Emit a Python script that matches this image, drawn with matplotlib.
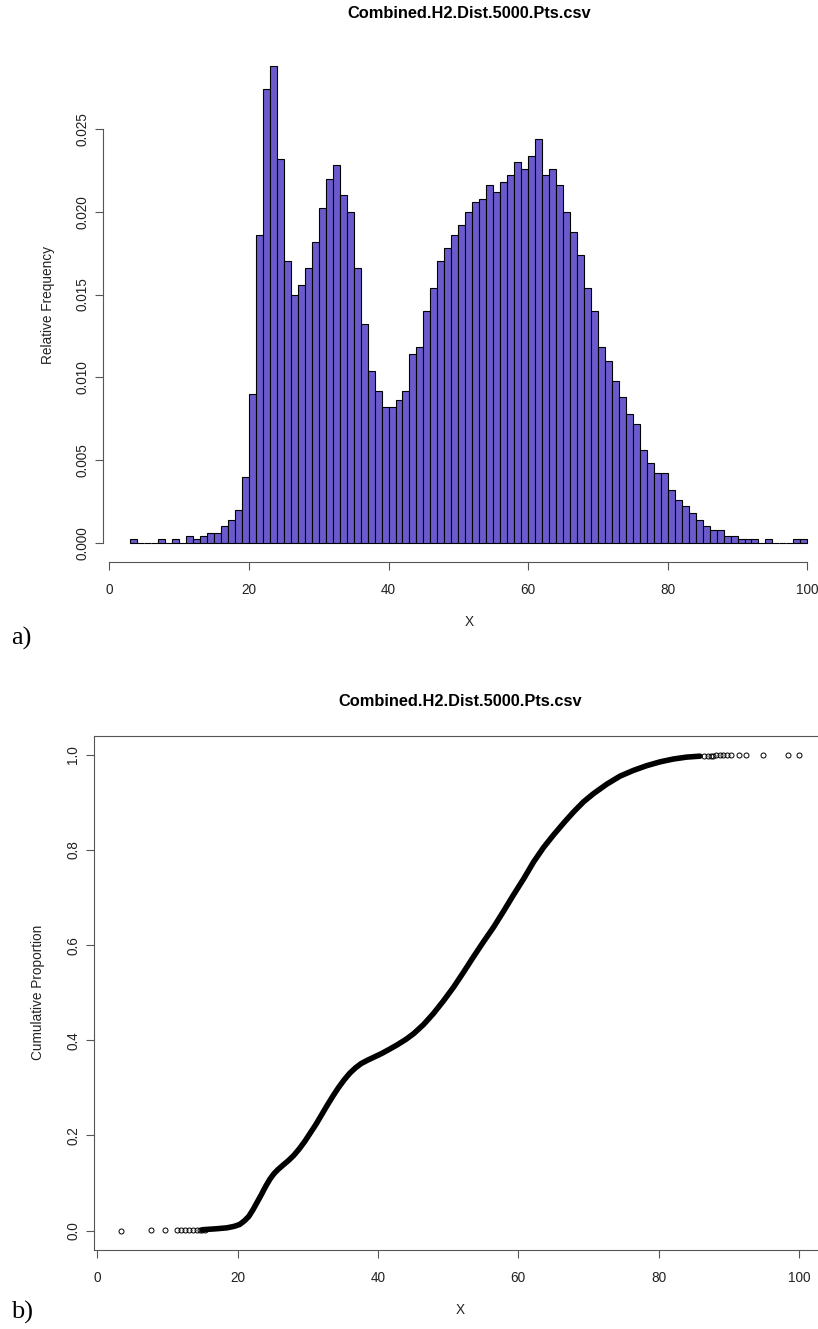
import numpy as np
import matplotlib
matplotlib.use("Agg")
import matplotlib.pyplot as plt

plt.rcParams['font.family'] = ['Liberation Sans', 'DejaVu Sans']

# histogram: relative frequency for 1-unit bins starting at x = 3 (3-4, 4-5, ..., 99-100)
bin_start = 3
rel_freq = [
    0.0002, 0, 0, 0, 0.0002, 0, 0.0002, 0, 0.0004, 0.0002,            # 3..12
    0.0004, 0.0006, 0.0006, 0.0010, 0.0014, 0.0020, 0.0040, 0.0090,   # 13..20
    0.0186, 0.0274, 0.0288, 0.0232, 0.0170, 0.0150, 0.0156, 0.0166,   # 21..28
    0.0182, 0.0202, 0.0220, 0.0228, 0.0210, 0.0200, 0.0166, 0.0132,   # 29..36
    0.0104, 0.0092, 0.0082, 0.0082, 0.0086, 0.0092, 0.0114, 0.0118,   # 37..44
    0.0140, 0.0154, 0.0170, 0.0178, 0.0186, 0.0192, 0.0200, 0.0206,   # 45..52
    0.0208, 0.0216, 0.0212, 0.0218, 0.0222, 0.0230, 0.0226, 0.0234,   # 53..60
    0.0244, 0.0222, 0.0226, 0.0216, 0.0200, 0.0188, 0.0174, 0.0154,   # 61..68
    0.0140, 0.0118, 0.0110, 0.0098, 0.0088, 0.0078, 0.0072, 0.0056,   # 69..76
    0.0048, 0.0042, 0.0042, 0.0032, 0.0026, 0.0022, 0.0018, 0.0014,   # 77..84
    0.0010, 0.0008, 0.0008, 0.0004, 0.0004, 0.0002, 0.0002, 0.0002,   # 85..92
    0, 0.0002, 0, 0, 0, 0.0002, 0.0002,                               # 93..99
]
hist_xticks = [0, 20, 40, 60, 80, 100]
hist_yticks = [0.000, 0.005, 0.010, 0.015, 0.020, 0.025]

# ecdf: the dense middle part
ecdf_x = [15.0, 17.0, 18.5, 19.5, 20.3, 21.0, 21.6, 22.2, 22.8, 23.4, 24.0, 24.6,
          25.2, 25.8, 26.5, 27.3, 28.0, 28.8, 29.6, 30.4, 31.2, 32.0, 32.8, 33.6,
          34.4, 35.2, 36.0, 36.8, 37.6, 38.5, 39.5, 40.5, 41.5, 42.7, 44.0, 45.1,
          46.5, 47.9, 49.3, 50.8, 52.2, 53.6, 55.0, 56.5, 57.9, 59.3, 60.8, 62.2,
          63.6, 65.0, 66.5, 67.9, 69.3, 70.7, 72.6, 74.5, 76.4, 78.3, 80.2, 82.1,
          84.0, 85.9]
ecdf_y = [0.002, 0.004, 0.006, 0.009, 0.013, 0.021, 0.030, 0.044, 0.060, 0.076, 0.093, 0.108,
          0.120, 0.129, 0.138, 0.148, 0.158, 0.172, 0.188, 0.206, 0.224, 0.244, 0.264, 0.283,
          0.301, 0.317, 0.331, 0.342, 0.351, 0.358, 0.365, 0.372, 0.380, 0.390, 0.402, 0.414,
          0.433, 0.456, 0.482, 0.512, 0.543, 0.575, 0.606, 0.638, 0.671, 0.705, 0.740, 0.775,
          0.805, 0.831, 0.857, 0.880, 0.901, 0.918, 0.938, 0.955, 0.967, 0.977, 0.985, 0.991,
          0.995, 0.997]
# sparse points at both tails
tail_lo_x = [3.4, 7.6, 9.7, 11.3, 11.9, 12.5, 13.1, 13.7, 14.2, 14.6, 15.0, 15.4]
tail_lo_y = [0.0002, 0.0004, 0.0006, 0.0008, 0.0010, 0.0012, 0.0014, 0.0016, 0.0018, 0.0020, 0.0022, 0.0024]
tail_hi_x = [86.5, 87.0, 87.4, 87.8, 88.2, 88.7, 89.2, 89.7, 90.3, 91.4, 92.4, 94.9, 98.4, 100.0]
tail_hi_y = [0.9976, 0.9978, 0.9980, 0.9982, 0.9984, 0.9986, 0.9988, 0.9990,
             0.9990, 0.9992, 0.9994, 0.9996, 0.9998, 1.0000]
ecdf_xticks = [0, 20, 40, 60, 80, 100]
ecdf_yticks = [0.0, 0.2, 0.4, 0.6, 0.8, 1.0]

title = "Combined.H2.Dist.5000.Pts.csv"

W, H = 818, 1329
fig = plt.figure(figsize=(W / 100, H / 100), dpi=100)
TXT = '#222222'
AXC = '#555555'


def px_axes(left, top, right, bottom):
    # axes from pixel edges (the right side runs past the picture, like the original crop)
    return fig.add_axes([left / W, 1 - bottom / H, (right - left) / W, (bottom - top) / H])


def r_style(ax, xpad=9, ypad=4):
    ax.tick_params(axis='both', direction='out', length=6, width=0.8, color=AXC,
                   labelsize=9.8, labelcolor=TXT)
    ax.tick_params(axis='x', pad=xpad)
    ax.tick_params(axis='y', pad=ypad)
    for lab in ax.get_yticklabels():
        lab.set_rotation(90)
        lab.set_va('center')


# ---- a) histogram
ax1 = px_axes(103.2, 47.1, 834.4, 561.8)
lefts = np.arange(len(rel_freq)) + bin_start
ax1.bar(lefts, rel_freq, width=1, align='edge', color='#6A5ACD',
        edgecolor='black', linewidth=0.8)
ax1.set_xlim(-0.88, 103.88)
ax1.set_ylim(-0.00115, 0.02995)
ax1.set_xticks(hist_xticks)
ax1.set_yticks(hist_yticks)
ax1.set_yticklabels([f"{v:.3f}" for v in hist_yticks])
for s in ['top', 'right']:
    ax1.spines[s].set_visible(False)
ax1.spines['left'].set_bounds(0, 0.025)
ax1.spines['bottom'].set_bounds(0, 100)
for s in ['left', 'bottom']:
    ax1.spines[s].set_color(AXC)
    ax1.spines[s].set_linewidth(0.8)
r_style(ax1)

fig.text(468.8 / W, 1 - 13.5 / H, title, ha='center', va='center',
         fontsize=11.8, fontweight='bold', color='black')
fig.text(468.8 / W, 1 - 622 / H, "X", ha='center', va='center', fontsize=9.8, color=TXT)
fig.text(48.3 / W, 1 - 304.5 / H, "Relative Frequency", rotation=90,
         ha='center', va='center', fontsize=9.8, color=TXT)
fig.text(11 / W, 1 - 638 / H, "a)", ha='left', va='center', fontsize=19,
         family=['Liberation Serif', 'DejaVu Serif'], color='black')

# ---- b) cumulative proportion
ax2 = px_axes(94.0, 735.7, 826.0, 1249.7)
ax2.plot(ecdf_x, ecdf_y, color='black', lw=4.0, solid_capstyle='round',
         solid_joinstyle='round')
ax2.plot(tail_lo_x, tail_lo_y, 'o', mfc='none', mec='black', ms=3.6, mew=0.7)
ax2.plot(tail_hi_x, tail_hi_y, 'o', mfc='none', mec='black', ms=3.6, mew=0.7)
ax2.set_xlim(-0.46, 103.86)
ax2.set_ylim(-0.04, 1.04)
ax2.set_xticks(ecdf_xticks)
ax2.set_yticks(ecdf_yticks)
ax2.set_yticklabels([f"{v:.1f}" for v in ecdf_yticks])
for s in ax2.spines.values():
    s.set_color(AXC)
    s.set_linewidth(0.8)
r_style(ax2)

fig.text(460 / W, 1 - 702 / H, title, ha='center', va='center',
         fontsize=11.8, fontweight='bold', color='black')
fig.text(460 / W, 1 - 1310 / H, "X", ha='center', va='center', fontsize=9.8, color=TXT)
fig.text(38 / W, 1 - 992.5 / H, "Cumulative Proportion", rotation=90,
         ha='center', va='center', fontsize=9.8, color=TXT)
fig.text(11 / W, 1 - 1312 / H, "b)", ha='left', va='center', fontsize=19,
         family=['Liberation Serif', 'DejaVu Serif'], color='black')

fig.savefig("out.png", dpi=100)
